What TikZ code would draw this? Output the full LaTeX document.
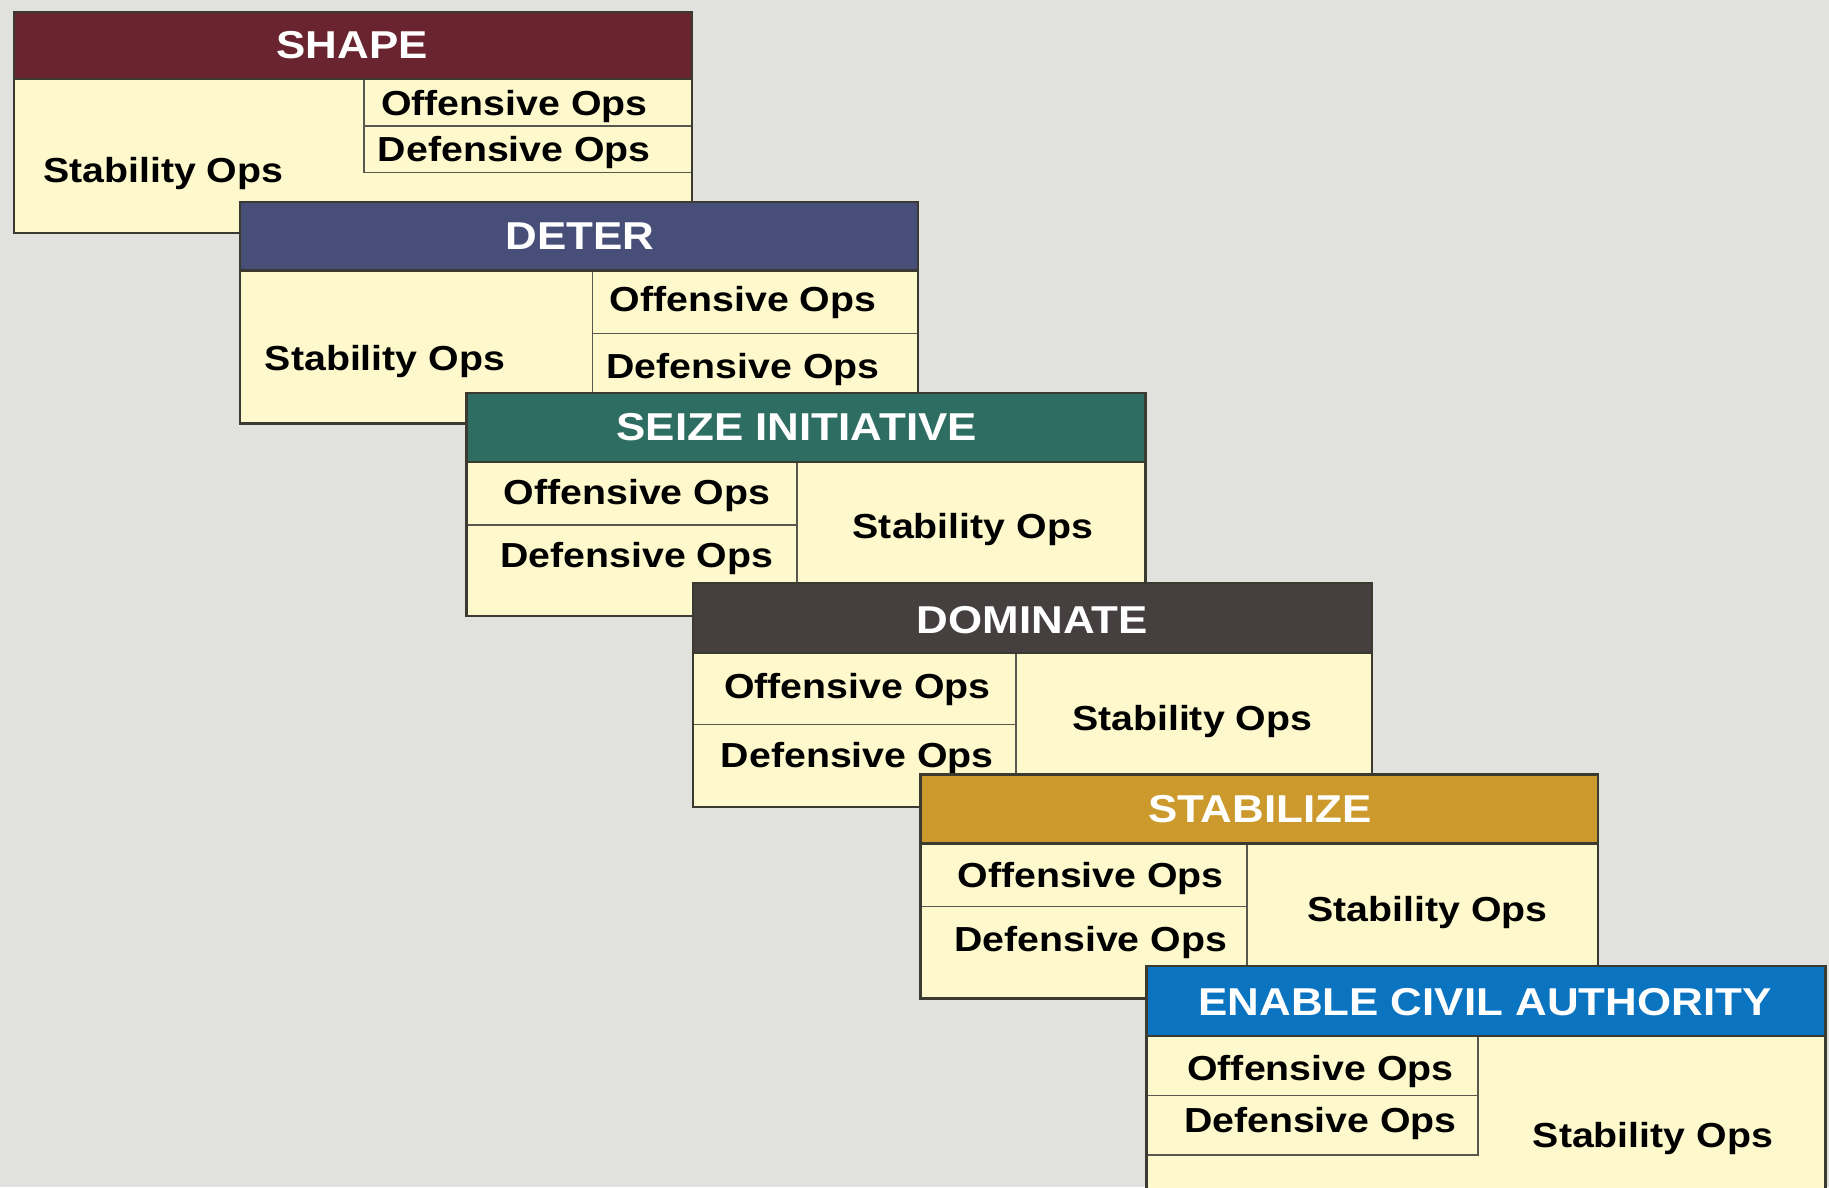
\documentclass[tikz,border=0pt]{standalone}
\usepackage{fontspec}
\newfontfamily\opsfont[FakeStretch=1.13]{Liberation Sans}
\definecolor{bg}{HTML}{E1E1DD}
\definecolor{cream}{HTML}{FDF9CC}
\definecolor{cshape}{HTML}{6A2430}
\definecolor{cdeter}{HTML}{474F78}
\definecolor{cseize}{HTML}{2E6E62}
\definecolor{cdom}{HTML}{45403F}
\definecolor{cstab}{HTML}{CC9A2C}
\definecolor{cenable}{HTML}{0B74C0}
\definecolor{linec}{HTML}{3A3A30}
\tikzset{
  frame/.style={draw=linec, line width=2pt},
  innerline/.style={draw=linec!85, line width=1.4pt},
  lbl/.style={font=\opsfont\bfseries\fontsize{29.8}{34}\selectfont, text=black,
    inner sep=0pt, text height=21.3pt, text depth=0pt},
  ttl/.style={font=\opsfont\bfseries\fontsize{33.3}{38}\selectfont, text=white,
    inner sep=0pt, text height=23.8pt, text depth=0pt},
}
\begin{document}
\begin{tikzpicture}[x=1pt,y=-1pt]
\fill[bg] (0,0) rectangle (1568,1018);
\useasboundingbox (0,0) rectangle (1568,1018);
\clip (0,0) rectangle (1568,1018);

% ---- SHAPE
\fill[cream] (12,10) rectangle (593,200);
\fill[cshape] (12,10) rectangle (593,68);
\draw[innerline] (312,68) -- (312,148) -- (593,148);
\draw[innerline] (312,108) -- (593,108);
\draw[frame] (12,10) rectangle (593,200);
\draw[frame] (12,68) -- (593,68);
\node[ttl] (t1) at (302,38) {SHAPE};
\node[lbl] (s1) at (140,146) {Stability Ops};
\node[lbl] (o1) at (441,88) {Offensive Ops};
\node[lbl] (d1) at (441,128) {Defensive Ops};

% ---- DETER
\fill[cream] (206,173) rectangle (787,363);
\fill[cdeter] (206,173) rectangle (787,232);
\draw[innerline] (508,232) -- (508,363);
\draw[innerline] (508,286) -- (787,286);
\draw[frame] (206,173) rectangle (787,363);
\draw[frame] (206,232) -- (787,232);
\node[ttl] (t2) at (497,202) {DETER};
\node[lbl] (s2) at (330,307) {Stability Ops};
\node[lbl] (o2) at (637,256) {Offensive Ops};
\node[lbl] (d2) at (637,314) {Defensive Ops};

% ---- SEIZE INITIATIVE
\fill[cream] (400,337) rectangle (982,528);
\fill[cseize] (400,337) rectangle (982,396);
\draw[innerline] (683,396) -- (683,528);
\draw[innerline] (400,450) -- (683,450);
\draw[frame] (400,337) rectangle (982,528);
\draw[frame] (400,396) -- (982,396);
\node[ttl] (t3) at (683,366) {SEIZE INITIATIVE};
\node[lbl] (o3) at (546,422) {Offensive Ops};
\node[lbl] (d3) at (546,476) {Defensive Ops};
\node[lbl] (s3) at (834,451) {Stability Ops};

% ---- DOMINATE
\fill[cream] (594,500) rectangle (1176,692);
\fill[cdom] (594,500) rectangle (1176,560);
\draw[innerline] (871,560) -- (871,692);
\draw[innerline] (594,621) -- (871,621);
\draw[frame] (594,500) rectangle (1176,692);
\draw[frame] (594,560) -- (1176,560);
\node[ttl] (t4) at (885,531) {DOMINATE};
\node[lbl] (o4) at (735,588) {Offensive Ops};
\node[lbl] (d4) at (735,647) {Defensive Ops};
\node[lbl] (s4) at (1022,616) {Stability Ops};

% ---- STABILIZE
\fill[cream] (789,664) rectangle (1370,856);
\fill[cstab] (789,664) rectangle (1370,723);
\draw[innerline] (1069,723) -- (1069,856);
\draw[innerline] (789,777) -- (1069,777);
\draw[frame] (789,664) rectangle (1370,856);
\draw[frame] (789,723) -- (1370,723);
\node[ttl] (t5) at (1080,693) {STABILIZE};
\node[lbl] (o5) at (935,750) {Offensive Ops};
\node[lbl] (d5) at (935,805) {Defensive Ops};
\node[lbl] (s5) at (1224,779) {Stability Ops};

% ---- ENABLE CIVIL AUTHORITY
\fill[cream] (983,828) rectangle (1565,1040);
\fill[cenable] (983,828) rectangle (1565,888);
\draw[innerline] (1267,888) -- (1267,990) -- (983,990);
\draw[innerline] (983,939) -- (1267,939);
\draw[frame] (983,828) rectangle (1565,1040);
\draw[frame] (983,888) -- (1565,888);
\node[ttl] (t6) at (1273,859) {ENABLE CIVIL AUTHORITY};
\node[lbl] (o6) at (1132,916) {Offensive Ops};
\node[lbl] (d6) at (1132,960) {Defensive Ops};
\node[lbl] (s6) at (1417,973) {Stability Ops};
\end{tikzpicture}
\end{document}
